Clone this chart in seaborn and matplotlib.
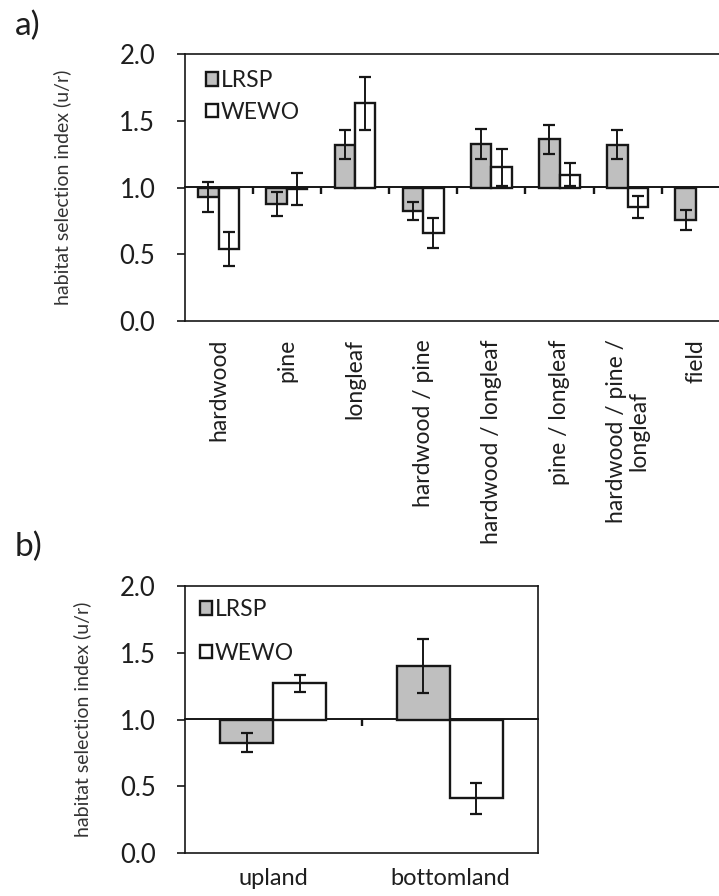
import numpy as np
import pandas as pd
import matplotlib.pyplot as plt
import seaborn as sns

# panel a) habitat types
habitat_a = ['hardwood', 'pine', 'longleaf', 'hardwood / pine', 'hardwood / longleaf',
             'pine / longleaf', 'hardwood / pine /\nlongleaf', 'field']
lrsp_a = [0.93, 0.88, 1.32, 0.825, 1.325, 1.36, 1.32, 0.755]
lrsp_a_se = [0.11, 0.09, 0.11, 0.065, 0.11, 0.11, 0.11, 0.073]
wewo_a = [0.54, 0.99, 1.63, 0.66, 1.15, 1.095, 0.855, np.nan]
wewo_a_se = [0.13, 0.12, 0.20, 0.115, 0.14, 0.085, 0.08, np.nan]

# panel b) landform
habitat_b = ['upland', 'bottomland']
lrsp_b = [0.826, 1.40]
lrsp_b_se = [0.072, 0.20]
wewo_b = [1.27, 0.41]
wewo_b_se = [0.065, 0.115]

species = ['LRSP', 'WEWO']
colors = {'LRSP': '#bfbfbf', 'WEWO': 'white'}


def make_df(habitat, lrsp, lrsp_se, wewo, wewo_se):
    d = pd.concat([
        pd.DataFrame({'habitat': habitat, 'species': 'LRSP', 'index': lrsp, 'se': lrsp_se}),
        pd.DataFrame({'habitat': habitat, 'species': 'WEWO', 'index': wewo, 'se': wewo_se}),
    ])
    d = d.dropna()
    d['dev'] = d['index'] - 1.0
    return d


df_a = make_df(habitat_a, lrsp_a, lrsp_a_se, wewo_a, wewo_a_se)
df_b = make_df(habitat_b, lrsp_b, lrsp_b_se, wewo_b, wewo_b_se)

sns.set_style('ticks')
plt.rcParams['font.family'] = ['Lato', 'DejaVu Sans']
ink = '#161616'
txt = '#1e1e1e'

fig = plt.figure(figsize=(7.19, 8.96), dpi=100)
W, H = 719, 896
ax_a = fig.add_axes([184.5 / W, 1 - 321 / H, 545.5 / W, 267 / H])
ax_b = fig.add_axes([185 / W, 1 - 853 / H, 353 / W, 267 / H])


def draw(ax, df, order, lab_x, leg_xy, leg_space):
    sns.barplot(data=df, x='habitat', y='dev', hue='species', order=order,
                hue_order=species, palette=colors, edgecolor=ink, linewidth=1.7,
                width=0.6, bottom=1.0, errorbar=None, legend=False, ax=ax)
    # error bars on top of each bar
    for cont, sp in zip(ax.containers, species):
        sub = df[df.species == sp].set_index('habitat')
        for bar in cont:
            xc = bar.get_x() + bar.get_width() / 2
            row = sub.loc[order[int(round(xc))]]
            ax.errorbar(xc, row['index'], yerr=row['se'], fmt='none', ecolor=ink,
                        elinewidth=1.4, capsize=4, capthick=1.6)
    ax.set_ylim(0, 2)
    ax.set_xlim(-0.5, len(order) - 0.5)
    ax.set_yticks(np.arange(0, 2.01, 0.5))
    ax.set_yticklabels([f'{v:.1f}' for v in np.arange(0, 2.01, 0.5)], fontsize=18.5, color=txt)
    ax.tick_params(axis='y', direction='out', length=6, width=1.2, color=ink, pad=15)
    ax.tick_params(axis='x', length=0)
    for s in ax.spines.values():
        s.set_visible(True)
        s.set_color(ink)
        s.set_linewidth(1.2)
    ax.set_xlabel('')
    ax.set_ylabel('habitat selection index (u/r)', fontsize=14, color='#333333', va='center')
    ax.yaxis.set_label_coords(lab_x, 0.5)
    # reference line at 1.0 with ticks between categories
    sec = ax.secondary_xaxis(0.5)
    sec.set_xticks(np.arange(len(order) - 1) + 0.5)
    sec.set_xticklabels([])
    sec.tick_params(direction='in', length=5, width=1.7, color=ink)
    sec.spines['top'].set_color(ink)
    sec.spines['top'].set_linewidth(1.4)
    ax.legend(ax.containers[:2], species, loc='upper left', bbox_to_anchor=leg_xy,
              frameon=False, fontsize=16.5, handlelength=0.52, handleheight=0.52,
              handletextpad=0.12, borderpad=0, borderaxespad=0, labelspacing=leg_space,
              labelcolor=txt)


draw(ax_a, df_a, habitat_a, -0.2246, (0.039, 0.94), 0.47)
ax_a.set_xticks(range(len(habitat_a)))
ax_a.set_xticklabels(habitat_a, rotation=90, fontsize=16.5, va='top', ha='center',
                     multialignment='center', color=txt, linespacing=1.05)
ax_a.tick_params(axis='x', pad=13)

draw(ax_b, df_b, habitat_b, -0.2918, (0.0425, 0.951), 0.99)
ax_b.set_xticklabels(habitat_b, fontsize=17, color=txt)
ax_b.tick_params(axis='x', pad=11)

fig.text(15 / W, 1 - 11 / H, 'a)', fontsize=24, ha='left', va='top', color=txt)
fig.text(15 / W, 1 - 532 / H, 'b)', fontsize=24, ha='left', va='top', color=txt)

fig.savefig('out.png', dpi=100)
